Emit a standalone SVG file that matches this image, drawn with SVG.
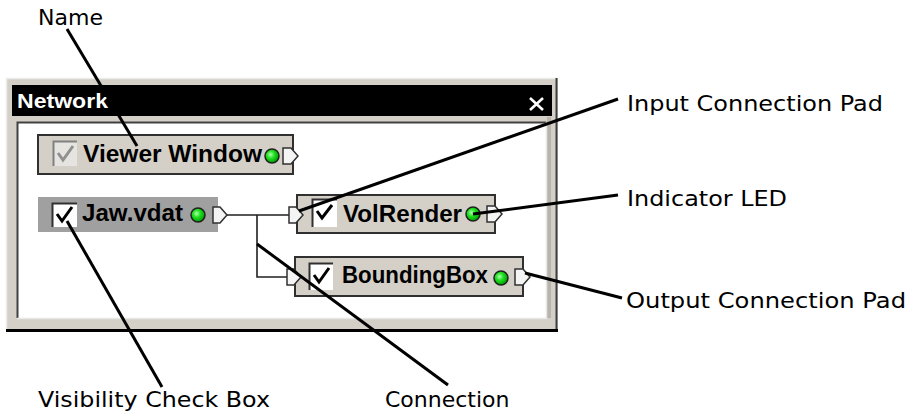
<svg xmlns="http://www.w3.org/2000/svg" width="906" height="412" viewBox="0 0 906 412">
<defs>
<radialGradient id="led" cx="0.4" cy="0.4" r="0.6">
<stop offset="0" stop-color="#b0ffb0"/>
<stop offset="0.45" stop-color="#20e020"/>
<stop offset="1" stop-color="#00a000"/>
</radialGradient>
</defs>
<style>
.lbl{font-family:"DejaVu Sans",Verdana,sans-serif;font-size:22px;fill:#000}
.nt{font-family:"Liberation Sans",Arial,sans-serif;font-weight:bold;font-size:23px;fill:#000}
.box{fill:#d4d0c8;stroke:#303030;stroke-width:2}
.pad{fill:#f4f4f4;stroke:#303030;stroke-width:1.5;stroke-linejoin:miter}
.led{fill:url(#led);stroke:#202020;stroke-width:1.5}
.chk{fill:none;stroke:#000;stroke-width:3;stroke-linejoin:miter}
.call{stroke:#000;stroke-width:3;fill:none}
.conn{stroke:#202020;stroke-width:1.6;fill:none}
</style>
<rect width="906" height="412" fill="#fff"/>

<g id="window">
<rect x="6" y="78" width="552" height="253" fill="#d4d0c8"/>
<path d="M6.5,331 V78.5 H557" stroke="#ececec" stroke-width="1.5" fill="none"/>
<path d="M556.5,78 V330" stroke="#404040" stroke-width="2" fill="none"/>
<path d="M6,330.5 H558" stroke="#000" stroke-width="3" fill="none"/>
<path d="M549,117 V318" stroke="#b8b4ac" stroke-width="4" fill="none"/>
<rect x="12" y="85" width="540" height="31" fill="#000"/>
<text x="17" y="108" font-family="'Liberation Sans',Arial,sans-serif" font-weight="bold" font-size="20" fill="#fff" textLength="91" lengthAdjust="spacingAndGlyphs">Network</text>
<path d="M530,98 L543,110 M543,98 L530,110" stroke="#fff" stroke-width="2.6"/>
<rect x="17" y="122" width="529" height="196" fill="#fff"/>
<path d="M17.5,318 V122.5 H546" stroke="#404040" stroke-width="2" fill="none"/>
<path d="M17,318.5 H546.5 V122" stroke="#e8e8e8" stroke-width="1.5" fill="none"/>
</g>

<g id="connectors">
<path class="conn" d="M227,215 H290 M257,215 V277 H288"/>
</g>

<g id="node-viewer">
<rect class="box" x="38" y="135" width="255" height="39"/>
<rect x="53" y="141" width="24" height="25" fill="#e6e4e0"/>
<path d="M53.5,166 V141.5 H77" stroke="#808080" stroke-width="2" fill="none"/>
<polyline points="58,153 63,160 73,146" fill="none" stroke="#909090" stroke-width="3"/>
<text class="nt" x="83" y="162" textLength="179" lengthAdjust="spacingAndGlyphs">Viewer Window</text>
<circle class="led" cx="272" cy="156" r="7"/>
<polygon class="pad" points="283,148 291,148 298,156 291,164 283,164"/>
</g>

<g id="node-jaw">
<rect x="38" y="197" width="180" height="35" fill="#a0a0a0"/>
<rect x="52" y="203" width="25" height="24" fill="#fff"/>
<path d="M52.5,227 V203.5 H77" stroke="#303030" stroke-width="2" fill="none"/>
<polyline class="chk" points="57,214 62,221 72,207"/>
<text class="nt" x="82" y="221" textLength="101" lengthAdjust="spacingAndGlyphs">Jaw.vdat</text>
<circle class="led" cx="198" cy="215" r="7"/>
<polygon class="pad" points="213,207 220,207 227,215 220,223 213,223"/>
</g>

<g id="node-volrender">
<rect class="box" x="297" y="195" width="198" height="38"/>
<polygon class="pad" points="289,207 296,207 303,215 296,223 289,223"/>
<rect x="312" y="199" width="25" height="28" fill="#fff"/>
<path d="M312.5,227 V199.5 H337" stroke="#303030" stroke-width="2" fill="none"/>
<polyline class="chk" points="317,211 322,218 332,205"/>
<text class="nt" x="343" y="222" textLength="119" lengthAdjust="spacingAndGlyphs">VolRender</text>
<circle class="led" cx="473" cy="214" r="7"/>
<polygon class="pad" points="487,206 495,206 502,214 495,222 487,222"/>
</g>

<g id="node-boundingbox">
<rect class="box" x="295" y="257" width="228" height="39"/>
<polygon class="pad" points="287,269 294,269 301,277 294,285 287,285"/>
<rect x="309" y="263" width="24" height="27" fill="#fff"/>
<path d="M309.5,290 V263.5 H333" stroke="#303030" stroke-width="2" fill="none"/>
<polyline class="chk" points="314,275 319,282 329,268"/>
<text class="nt" x="342" y="283" textLength="146" lengthAdjust="spacingAndGlyphs">BoundingBox</text>
<circle class="led" cx="501" cy="278" r="7"/>
<polygon class="pad" points="515,269 523,269 530,277 523,285 515,285"/>
</g>

<g id="callouts">
<line class="call" x1="67" y1="29" x2="137" y2="146"/>
<line class="call" x1="618" y1="99" x2="299" y2="211"/>
<line class="call" x1="618" y1="195" x2="473" y2="214"/>
<line class="call" x1="525" y1="273" x2="622" y2="298"/>
<line class="call" x1="67" y1="221" x2="162" y2="387"/>
<line class="call" x1="257" y1="244" x2="448" y2="385"/>
</g>

<g id="labels">
<text class="lbl" x="38" y="25" textLength="65" lengthAdjust="spacingAndGlyphs">Name</text>
<text class="lbl" x="627" y="111" textLength="256" lengthAdjust="spacingAndGlyphs">Input Connection Pad</text>
<text class="lbl" x="627" y="206" textLength="160" lengthAdjust="spacingAndGlyphs">Indicator LED</text>
<text class="lbl" x="626" y="308" textLength="280" lengthAdjust="spacingAndGlyphs">Output Connection Pad</text>
<text class="lbl" x="38" y="407" textLength="232" lengthAdjust="spacingAndGlyphs">Visibility Check Box</text>
<text class="lbl" x="385" y="407">Connection</text>
</g>
</svg>
